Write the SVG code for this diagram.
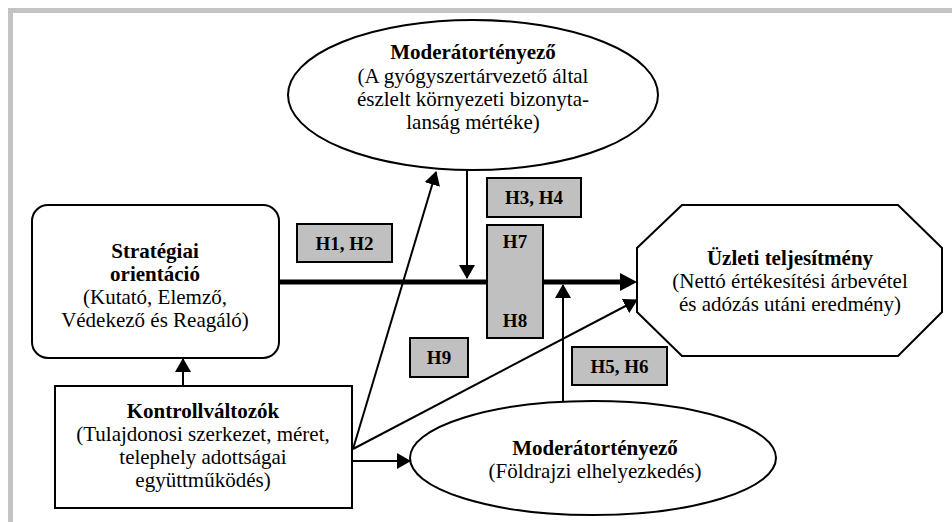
<svg xmlns="http://www.w3.org/2000/svg" width="952" height="522" viewBox="0 0 952 522">
<style>
  text { font-family: "Liberation Serif", "Times New Roman", serif; font-size: 21px; fill: #000; text-anchor: middle; }
  .b { font-weight: bold; }
  .h { font-weight: bold; font-size: 19px; }
  .shape { fill: #fff; stroke: #000; stroke-width: 2; }
  .hbox { fill: #c0c0c0; stroke: #000; stroke-width: 2; }
  .thin { fill: none; stroke: #000; stroke-width: 2; }
  .thick { fill: none; stroke: #000; stroke-width: 5; }
  .frame { fill: #c3c3c3; }
</style>
<defs>
  <marker id="arr" viewBox="0 0 14 16" refX="13" refY="8" markerWidth="14" markerHeight="16" markerUnits="userSpaceOnUse" orient="auto">
    <path d="M0,0 L14,8 L0,16 z" fill="#000"/>
  </marker>
  <marker id="arrBig" viewBox="0 0 17 18" refX="0" refY="9" markerWidth="17" markerHeight="18" markerUnits="userSpaceOnUse" orient="auto">
    <path d="M0,0 L17,9 L0,18 z" fill="#000"/>
  </marker>
</defs>
<rect x="0" y="0" width="952" height="522" fill="#fff"/>
<rect class="frame" x="8" y="8" width="944" height="5"/>
<rect class="frame" x="8" y="8" width="5" height="514"/>

<g id="connectors">
  <path class="thick" d="M279,282 L620,282" marker-end="url(#arrBig)"/>
  <path class="thin" d="M467,170 L467,278" marker-end="url(#arr)"/>
  <path class="thin" d="M563,402 L563,285" marker-end="url(#arr)"/>
  <path class="thin" d="M183,386 L183,359" marker-end="url(#arr)"/>
  <path class="thin" d="M353,449 L436,172" marker-end="url(#arr)"/>
  <path class="thin" d="M353,449 L637,300" marker-end="url(#arr)"/>
  <path class="thin" d="M353,461 L410,461" marker-end="url(#arr)"/>
</g>

<g id="moderator-top">
  <ellipse class="shape" cx="473" cy="95" rx="185" ry="75"/>
  <text class="b" x="473" y="59">Moderátortényező</text>
  <text x="473" y="83">(A gyógyszertárvezető által</text>
  <text x="473" y="106">észlelt környezeti bizonyta-</text>
  <text x="473" y="129">lanság mértéke)</text>
</g>

<g id="strategiai">
  <rect class="shape" x="32" y="205" width="247" height="153" rx="16" ry="16"/>
  <text class="b" x="155" y="258">Stratégiai</text>
  <text class="b" x="155" y="281">orientáció</text>
  <text x="155" y="304">(Kutató, Elemző,</text>
  <text x="155" y="327">Védekező és Reagáló)</text>
</g>

<g id="kontroll">
  <rect class="shape" x="55" y="386" width="297" height="122"/>
  <text class="b" x="203" y="418">Kontrollváltozók</text>
  <text x="203" y="441">(Tulajdonosi szerkezet, méret,</text>
  <text x="203" y="464">telephely adottságai</text>
  <text x="203" y="487">együttműködés)</text>
</g>

<g id="uzleti">
  <polygon class="shape" points="682,205 898,205 942,248 942,312 898,356 682,356 637,312 637,248"/>
  <text class="b" x="790" y="265">Üzleti teljesítmény</text>
  <text x="790" y="288">(Nettó értékesítési árbevétel</text>
  <text x="790" y="311">és adózás utáni eredmény)</text>
</g>

<g id="moderator-bottom">
  <ellipse class="shape" cx="593" cy="458" rx="183" ry="57"/>
  <text class="b" x="595" y="455">Moderátortényező</text>
  <text x="595" y="478">(Földrajzi elhelyezkedés)</text>
</g>

<g id="h1h2">
  <rect class="hbox" x="297" y="224" width="95" height="38"/>
  <text class="h" x="344.5" y="250">H1, H2</text>
</g>
<g id="h3h4">
  <rect class="hbox" x="487" y="178" width="94" height="39"/>
  <text class="h" x="534" y="204">H3, H4</text>
</g>
<g id="h7h8">
  <rect class="hbox" x="487" y="225" width="56" height="113"/>
  <text class="h" x="515" y="248">H7</text>
  <text class="h" x="515" y="327">H8</text>
</g>
<g id="h9">
  <rect class="hbox" x="410" y="338" width="58" height="39"/>
  <text class="h" x="439" y="364">H9</text>
</g>
<g id="h5h6">
  <rect class="hbox" x="572" y="347" width="95" height="38"/>
  <text class="h" x="619.5" y="373">H5, H6</text>
</g>
</svg>
